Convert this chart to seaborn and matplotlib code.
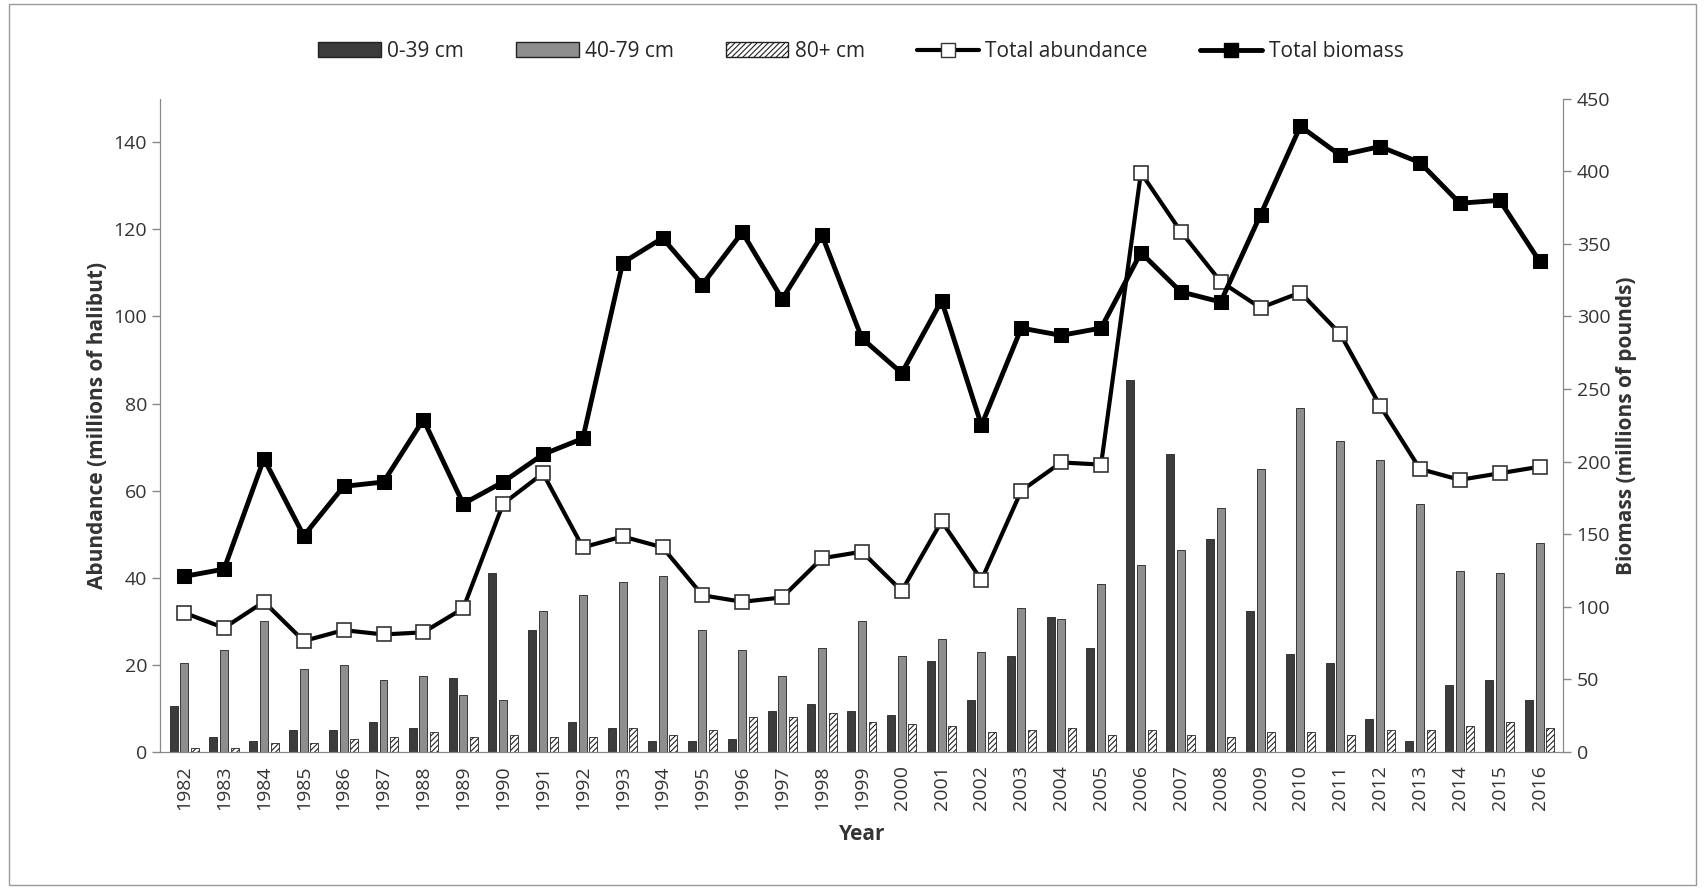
import matplotlib
matplotlib.use("Agg")
import matplotlib.pyplot as plt
import seaborn as sns
import pandas as pd
import numpy as np
from matplotlib.patches import Patch
from matplotlib.lines import Line2D

years = list(range(1982, 2017))
small = [10.5,3.5,2.5,5,5,7,5.5,17,41,28,7,5.5,2.5,2.5,3,9.5,11,9.5,8.5,21,12,22,31,24,85.5,68.5,49,32.5,22.5,20.5,7.5,2.5,15.5,16.5,12]
medium = [20.5,23.5,30,19,20,16.5,17.5,13,12,32.5,36,39,40.5,28,23.5,17.5,24,30,22,26,23,33,30.5,38.5,43,46.5,56,65,79,71.5,67,57,41.5,41,48]
large = [1,1,2,2,3,3.5,4.5,3.5,4,3.5,3.5,5.5,4,5,8,8,9,7,6.5,6,4.5,5,5.5,4,5,4,3.5,4.5,4.5,4,5,5,6,7,5.5]
abundance = [32,28.5,34.5,25.5,28,27,27.5,33,57,64,47,49.5,47,36,34.5,35.5,44.5,46,37,53,39.5,60,66.5,66,133,119.5,108,102,105.5,96,79.5,65,62.5,64,65.5]
biomass = [121,126,202,149,183,186,229,171,186,205,216,337,354,322,358,312,356,285,261,311,225,292,287,292,344,317,310,370,431,411,417,406,378,380,338]
groups = ["0-39 cm", "40-79 cm", "80+ cm"]

df = pd.DataFrame({"Year": [str(y) for y in years] * 3,
                   "Size": np.repeat(groups, len(years)),
                   "Abundance": small + medium + large})

sns.set_style("white")
plt.rcParams["font.family"] = ["Open Sans", "DejaVu Sans"]
plt.rcParams["hatch.linewidth"] = 0.8
fig = plt.figure(figsize=(17.05, 8.89), dpi=100)
ax = fig.add_axes([0.094, 0.154, 0.823, 0.735])
pal = {"0-39 cm": "#3c3c3c", "40-79 cm": "#8e8e8e", "80+ cm": "white"}
sns.barplot(data=df, x="Year", y="Abundance", hue="Size", palette=pal, ax=ax,
            width=0.8, gap=0.25, edgecolor="#222222", linewidth=0.6, legend=False)
n = len(years)
for i, p in enumerate(ax.patches[:3 * n]):
    if i >= 2 * n:
        p.set_hatch("//////")

x = np.arange(n)
sns.lineplot(x=x, y=abundance, ax=ax, color="black", lw=3, marker="s", markersize=10,
             markerfacecolor="white", markeredgecolor="#333333", markeredgewidth=1.2)
ax.set_ylim(0, 150)
ax.set_yticks(range(0, 141, 20))
ax.set_xlim(-0.6, n - 0.4)
ax2 = ax.twinx()
sns.lineplot(x=x, y=biomass, ax=ax2, color="black", lw=3.5, marker="s", markersize=10,
             markerfacecolor="black", markeredgecolor="black")
ax2.set_ylim(0, 450)
ax2.set_yticks(range(0, 451, 50))

for a in (ax, ax2):
    a.spines["top"].set_visible(False)
    for s in ["left", "right", "bottom"]:
        a.spines[s].set_color("#888888")
    a.tick_params(labelsize=14, colors="#333333", length=6, width=1, direction="out")
    a.tick_params(axis="both", color="#888888")
ax.tick_params(axis="x", rotation=90)
ax.set_xticks(x)
ax.set_xticklabels([str(y) for y in years], fontsize=14)
ax.set_xlabel("Year", fontsize=15, fontweight="bold", color="#333333", labelpad=10)
ax.set_ylabel("Abundance (millions of halibut)", fontsize=15, fontweight="bold", color="#333333")
ax2.set_ylabel("Biomass (millions of pounds)", fontsize=15, fontweight="bold", color="#333333")

handles = [Patch(facecolor="#3c3c3c", edgecolor="#222222", label="0-39 cm"),
           Patch(facecolor="#8e8e8e", edgecolor="#222222", label="40-79 cm"),
           Patch(facecolor="white", edgecolor="#222222", hatch="//////", label="80+ cm"),
           Line2D([], [], color="black", lw=3, marker="s", markersize=10, markerfacecolor="white",
                  markeredgecolor="#333333", label="Total abundance"),
           Line2D([], [], color="black", lw=3.5, marker="s", markersize=10, markerfacecolor="black",
                  label="Total biomass")]
fig.legend(handles=handles, loc="upper center", bbox_to_anchor=(0.505, 0.975), ncol=5,
           frameon=False, fontsize=15, handlelength=3, columnspacing=2.5, handletextpad=0.3)
fig.patches.append(plt.Rectangle((0.005, 0.005), 0.99, 0.99, transform=fig.transFigure,
                                 fill=False, edgecolor="#999999", lw=1))
fig.savefig("out.png", dpi=100)
